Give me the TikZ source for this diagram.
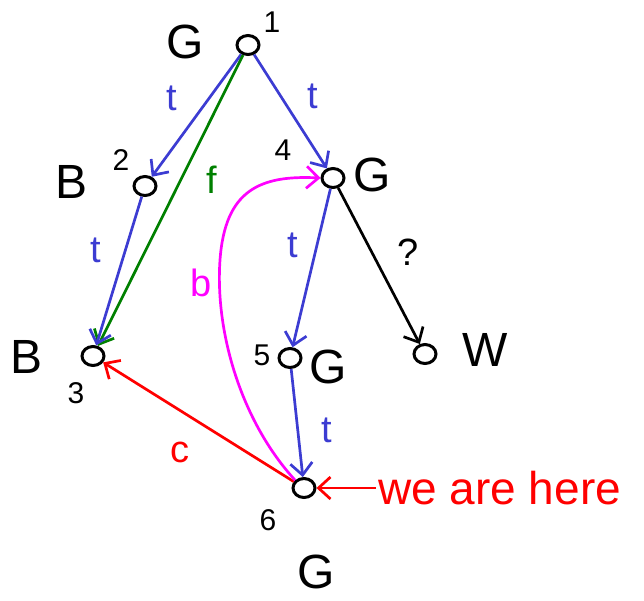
\documentclass[tikz,border=0pt]{standalone}
\usepackage{fontspec}
\setmainfont{Liberation Sans}
\usetikzlibrary{arrows.meta,shapes.geometric}
\definecolor{pblue}{RGB}{60,60,210}
\definecolor{pgreen}{RGB}{0,128,0}
\definecolor{pmag}{RGB}{255,0,255}
\definecolor{pred}{RGB}{255,0,0}
\begin{document}
\begin{tikzpicture}[x=1pt,y=-1pt,
  vtx/.style={draw,ellipse,line width=3pt,minimum width=22pt,minimum height=19pt,inner sep=0pt},
  big/.style={font=\fontsize{48}{48}\selectfont},
  num/.style={font=\fontsize{30}{30}\selectfont},
  lab/.style={font=\fontsize{38}{38}\selectfont},
  edge/.style={line width=2.7pt,-{Straight Barb[length=12pt,width=22pt,line width=2.7pt]}}
]
\useasboundingbox (0,0) rectangle (644,600);
\node[vtx] (n1) at (248,45) {};
\node[vtx] (n2) at (145,186) {};
\node[vtx] (n3) at (93,356) {};
\node[vtx] (n4) at (333,178) {};
\node[vtx] (n5) at (290,358) {};
\node[vtx] (n6) at (304,488) {};
\node[vtx] (nw) at (425,354) {};
% vertex labels
\node[big] (g1) at (185,42) {G};
\node[num] (k1) at (272,22) {1};
\node[big] (b2) at (72,182) {B};
\node[num] (k2) at (121,160) {2};
\node[big] (b3) at (27,357) {B};
\node[num] (k3) at (76,393) {3};
\node[num] (k4) at (283,150) {4};
\node[big] (g4) at (372,175) {G};
\node[num] (k5) at (262,355) {5};
\node[big] (g5) at (328,367) {G};
\node[num] (k6) at (268,520) {6};
\node[big] (g6) at (316,572) {G};
\node[big] (w) at (485,350) {W};
% edges
\draw[edge,pblue] (n1) -- (n2);
\draw[edge,pgreen] (n1) -- (n3);
\draw[edge,pblue] (n1) -- (n4);
\draw[edge,pblue] (n2) -- (n3);
\draw[edge,pblue] (n4) -- (n5);
\draw[edge,black] (n4) -- (nw);
\draw[edge,pblue] (n5) -- (n6);
\draw[edge,pred] (n6) -- (n3);
\draw[edge,pmag] (n6.north west) .. controls (240,420) and (215,330) .. (220,260) .. controls (225,190) and (260,175) .. (n4.west);
% edge labels
\node[lab,pblue] (t1) at (172,98) {t};
\node[lab,pgreen] (f1) at (212,180) {f};
\node[lab,pblue] (t2) at (313,96) {t};
\node[lab,pblue] (t3) at (96,250) {t};
\node[lab,pblue] (t4) at (293,245) {t};
\node[lab] (q) at (408,252) {?};
\node[lab,pblue] (t5) at (327,430) {t};
\node[lab,pred] (c1) at (180,452) {c};
\node[lab,pmag] (b1) at (201,283) {b};
% we are here
\node[font=\fontsize{46}{46}\selectfont,pred,anchor=west,inner sep=2pt] (here) at (376,488) {we are here};
\draw[edge,pred] (here.west) -- (n6);
\end{tikzpicture}
\end{document}
